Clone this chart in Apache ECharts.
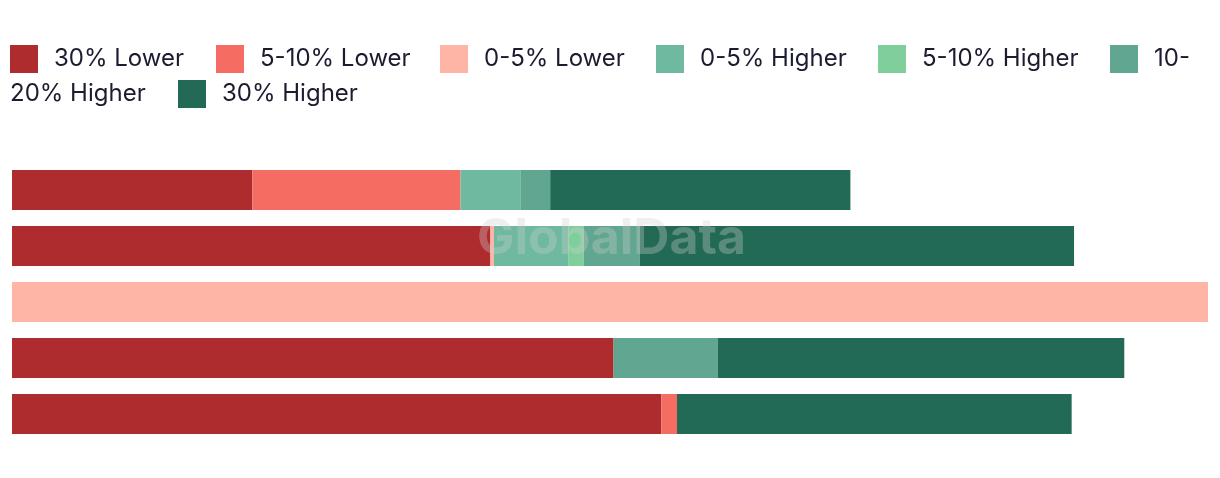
<!DOCTYPE html>
<html>
<head>
<meta charset="utf-8">
<script src="https://cdn.jsdelivr.net/npm/echarts@6/dist/echarts.min.js"></script>
<style>
html,body{margin:0;padding:0;background:#fff;}
#chart{width:1220px;height:478px;}
</style>
</head>
<body>
<div id="chart"></div>
<script>
// Categories (no labels shown in the reference)
const categories = ["Group 1", "Group 2", "Group 3", "Group 4", "Group 5"];
const seriesNames = ["30% Lower", "5-10% Lower", "0-5% Lower", "0-5% Higher", "5-10% Higher", "10-20% Higher", "30% Higher"];
const colors = ["#AF2C2E", "#F56D62", "#FEB5A6", "#6FB9A0", "#80CE9C", "#60A690", "#226A56"];
// values (share of the largest bar, %)
const lower30   = [20.1, 40.0,   0, 50.3, 54.3];
const lower5_10 = [17.4,    0,   0,    0,  1.3];
const lower0_5  = [   0,  0.3, 100,    0,    0];
const higher0_5 = [ 5.0,  6.2,   0,    0,    0];
const higher5_10= [   0,  1.3,   0,    0,    0];
const higher10_20=[ 2.5,  4.7,   0,  8.7,    0];
const higher30  = [25.1, 36.3,   0, 34.0, 33.0];
const values = [lower30, lower5_10, lower0_5, higher0_5, higher5_10, higher10_20, higher30];

const chart = echarts.init(document.getElementById('chart'));
const font = 'Inter';
const txtColor = '#1c1c30';

// legend item positions (left of icon) row 1 and row 2
const legendPos = [
  {left: 10, top: 45}, {left: 216, top: 45}, {left: 440, top: 45},
  {left: 656, top: 45}, {left: 878, top: 45}, {left: 1110, top: 45},
  {left: 178, top: 80}
];
const legends = seriesNames.map((n, i) => ({
  data: [n],
  left: legendPos[i].left,
  top: legendPos[i].top,
  itemWidth: 28,
  itemHeight: 28,
  icon: 'rect',
  padding: 0,
  selectedMode: false,
  formatter: (name) => name === "10-20% Higher" ? "10-" : name,
  textStyle: {fontFamily: font, fontSize: 24, color: txtColor, padding: [0, 0, 0, 11]}
}));

chart.setOption({
  animation: false,
  legend: legends,
  graphic: [
    {type: 'text', left: 10, top: 82, style: {text: '20% Higher', font: '24px Inter', fill: txtColor}},
    {type: 'text', left: 477, top: 214, z: 100, style: {text: 'GlobalData', font: 'bold 50px Inter', fill: 'rgba(205,205,205,0.33)'}}
  ],
  grid: {left: 12, right: 12, top: 162, height: 280, containLabel: false},
  xAxis: {type: 'value', min: 0, max: 100, show: false},
  yAxis: {type: 'category', data: categories, inverse: true, show: false},
  series: seriesNames.map((n, i) => ({
    name: n,
    type: 'bar',
    stack: 'total',
    barWidth: 40,
    itemStyle: {color: colors[i]},
    data: values[i]
  }))
});
</script>
</body>
</html>
